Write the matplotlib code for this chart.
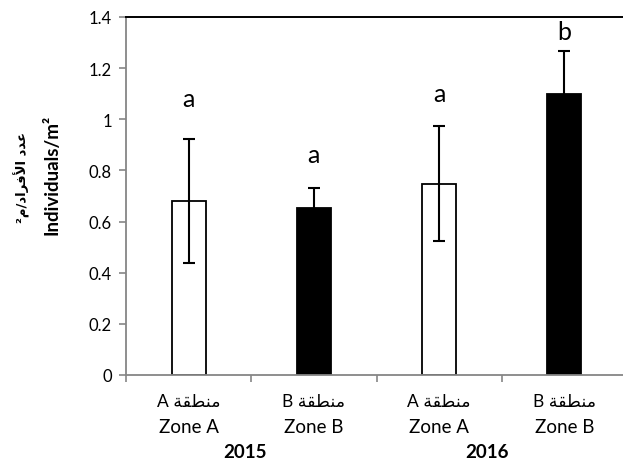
import matplotlib
matplotlib.use("Agg")
import matplotlib.pyplot as plt
import matplotlib.transforms as mtransforms

plt.rcParams['font.family'] = ['Lato', 'DejaVu Sans']

# ---- data ----
zones_en = ["Zone A", "Zone B", "Zone A", "Zone B"]
# "منطقة A" / "منطقة B" in visual (pre-shaped, left-to-right) order
zones_ar = ["A \uFE94\uFED8\uFEC4\uFEE8\uFEE3", "B \uFE94\uFED8\uFEC4\uFEE8\uFEE3",
            "A \uFE94\uFED8\uFEC4\uFEE8\uFEE3", "B \uFE94\uFED8\uFEC4\uFEE8\uFEE3"]
years = ["2015", "2016"]
means = [0.68, 0.655, 0.748, 1.10]
errors = [0.242, 0.078, 0.224, 0.168]
letters = ["a", "a", "a", "b"]
yticks = [0, 0.2, 0.4, 0.6, 0.8, 1.0, 1.2, 1.4]
ytick_labels = ["0", "0.2", "0.4", "0.6", "0.8", "1", "1.2", "1.4"]
ylabel_en = "Individuals/m\u00b2"
# "عدد الأفراد/م²" in visual order
ylabel_ar = "\u00b2\uFEE1/\uFEA9\uFE8D\uFEAE\uFED3\uFEF7\uFE8D \uFEA9\uFEAA\uFECB"

# ---- style ----
face = ["white", "black", "white", "black"]
letter_offsets_pt = [29, 24, 24, 14]
year_x = [0.45, 2.38]
gray = "#868686"

fig = plt.figure(figsize=(6.23, 4.64), dpi=100)
ax = fig.add_axes([126 / 623, (464 - 376) / 464, 501 / 623, 358 / 464])

x = list(range(len(means)))
ax.bar(x, means, width=0.27, color=face, edgecolor="black", linewidth=1.3, zorder=2)
ax.errorbar(x, means, yerr=errors, fmt="none", ecolor="black", elinewidth=1.5,
            capsize=4.5, capthick=1.5, zorder=3)

for xi, m, e, lab, off in zip(x, means, errors, letters, letter_offsets_pt):
    ax.annotate(lab, (xi, m + e), xytext=(0, off), textcoords="offset points",
                ha="center", va="center", fontsize=18, family="Lato")

ax.set_xlim(-0.5, 3.5)
ax.set_ylim(0, 1.4)
ax.set_yticks(yticks)
ax.set_yticklabels(ytick_labels, fontsize=12)
ax.set_xticks([-0.5, 0.5, 1.5, 2.5, 3.5])
ax.set_xticklabels([])
ax.tick_params(axis="both", direction="out", length=5, width=1.2, color=gray)
ax.tick_params(axis="y", pad=5)

for s in ["left", "bottom"]:
    ax.spines[s].set_color(gray)
    ax.spines[s].set_linewidth(1.3)
ax.spines["right"].set_visible(False)
ax.spines["top"].set_color("black")
ax.spines["top"].set_linewidth(1.4)

trans = mtransforms.blended_transform_factory(ax.transData, fig.transFigure)
for xi, ar, en in zip(x, zones_ar, zones_en):
    ax.text(xi, 1 - 402 / 464, ar, transform=trans, ha="center", va="center",
            fontsize=12.5, family=["Lato", "DejaVu Sans"])
    ax.text(xi, 1 - 428 / 464, en, transform=trans, ha="center", va="center",
            fontsize=13.5)
for yx, yr in zip(year_x, years):
    ax.text(yx, 1 - 453 / 464, yr, transform=trans, ha="center", va="center",
            fontsize=13.5, fontweight="bold")

fig.text(52 / 623, 1 - 175 / 464, ylabel_en, rotation=90, ha="center", va="center",
         fontsize=13.5, fontweight="bold")
fig.text(22 / 623, 1 - 177 / 464, ylabel_ar, rotation=90, ha="center", va="center",
         fontsize=9.5, fontweight="bold", family=["DejaVu Sans"])

fig.savefig("out.png", dpi=100)
